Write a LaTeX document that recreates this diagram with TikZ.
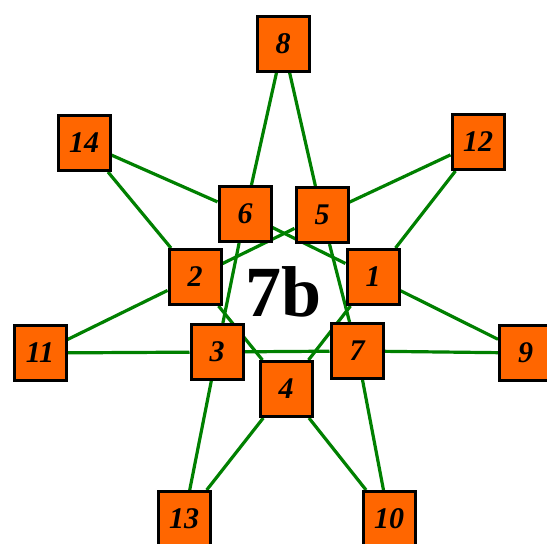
\documentclass[tikz,border=0pt]{standalone}
\usepackage{fontspec}
\setmainfont{Liberation Serif}
\usetikzlibrary{backgrounds}
\definecolor{boxorange}{RGB}{255,102,0}
\definecolor{linegreen}{RGB}{0,128,0}
\begin{document}
\begin{tikzpicture}[x=1pt,y=-1pt,
  numbox/.style={draw=black,line width=3pt,fill=boxorange,minimum width=52pt,minimum height=55pt,inner sep=0pt,font=\fontsize{30}{30}\selectfont\bfseries\itshape},
  link/.style={draw=linegreen,line width=3.2pt}]
\path[use as bounding box] (0,0) rectangle (547,544);
\node[numbox] (n8) at (283,43.5) {8};
\node[numbox] (n14) at (84,143) {14};
\node[numbox] (n12) at (478,142) {12};
\node[numbox] (n6) at (245,214) {6};
\node[numbox] (n5) at (322,215) {5};
\node[numbox] (n2) at (195,277) {2};
\node[numbox] (n1) at (373,277) {1};
\node[numbox] (n11) at (40,353) {11};
\node[numbox] (n3) at (217,352) {3};
\node[numbox] (n7) at (357,351) {7};
\node[numbox] (n9) at (525.5,353) {9};
\node[numbox] (n4) at (286,389) {4};
\node[numbox] (n13) at (184,519) {13};
\node[numbox] (n10) at (389,519) {10};
\node[font=\fontsize{72}{72}\selectfont\bfseries] (title) at (284,292) {7b};
\begin{scope}[on background layer]
\fill[white] (0,0) rectangle (547,544);
\draw[link] (n8) -- (n6);
\draw[link] (n8) -- (n5);
\draw[link] (n14) -- (n6);
\draw[link] (n14) -- (n2);
\draw[link] (n12) -- (n5);
\draw[link] (n12) -- (n1);
\draw[link] (n11) -- (n2);
\draw[link] (n11) -- (n3);
\draw[link] (n9) -- (n1);
\draw[link] (n9) -- (n7);
\draw[link] (n13) -- (n3);
\draw[link] (n13) -- (n4);
\draw[link] (n10) -- (n4);
\draw[link] (n10) -- (n7);
\draw[link] (n6) -- (n1);
\draw[link] (n5) -- (n2);
\draw[link] (n6) -- (n3);
\draw[link] (n5) -- (n7);
\draw[link] (n2) -- (n4);
\draw[link] (n1) -- (n4);
\draw[link] (n3) -- (n7);
\end{scope}
\end{tikzpicture}
\end{document}
